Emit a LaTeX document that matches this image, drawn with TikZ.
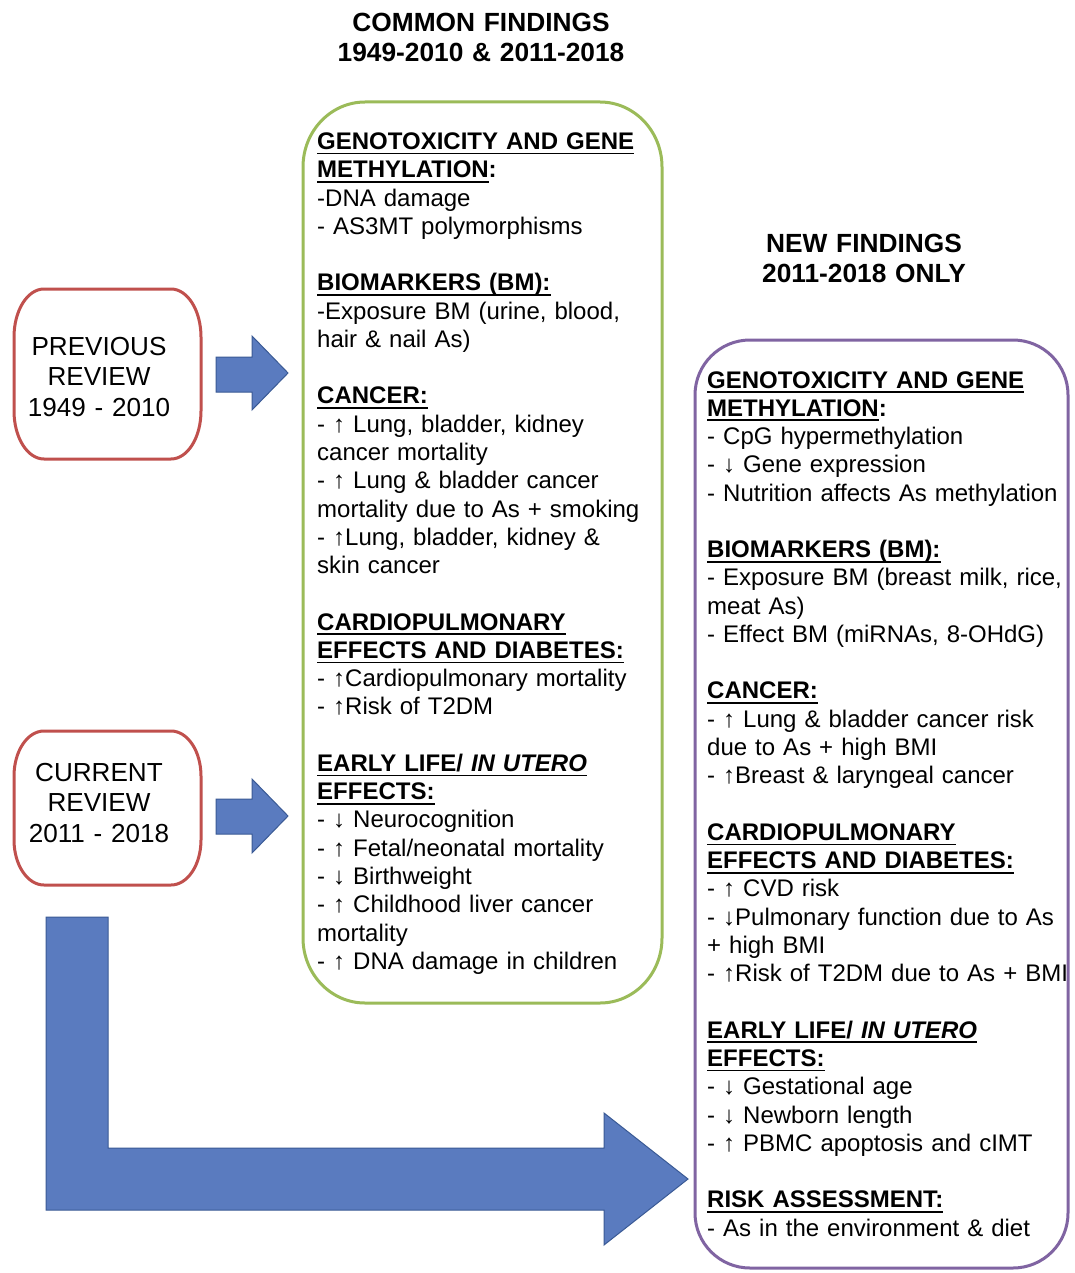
\documentclass[tikz,border=0pt]{standalone}
\usepackage{fontspec}
\setmainfont{Liberation Sans}
\definecolor{redb}{HTML}{C0504D}
\definecolor{greenb}{HTML}{9BBB59}
\definecolor{purpb}{HTML}{8064A2}
\definecolor{bluef}{HTML}{5A7BBF}
\definecolor{bluel}{HTML}{3A5A95}
\newsavebox\ulbox
\newcommand\myul[1]{\sbox\ulbox{#1}\rlap{\rule[-5pt]{\wd\ulbox}{1.8pt}}\usebox\ulbox}
\newcommand\gp{\\[28.27pt]}
\newcommand\hd[1]{\textbf{\myul{#1}}}
\newcommand\myframe[7]{%
\draw[#1] ({#2+#6},#3) -- ({#4-#6},#3) .. controls ({#4-0.448*#6},#3) and (#4,{#3+0.448*#7}) .. (#4,{#3+#7}) -- (#4,{#5-#7}) .. controls (#4,{#5-0.448*#7}) and ({#4-0.448*#6},#5) .. ({#4-#6},#5) -- ({#2+#6},#5) .. controls ({#2+0.448*#6},#5) and (#2,{#5-0.448*#7}) .. (#2,{#5-#7}) -- (#2,{#3+#7}) .. controls (#2,{#3+0.448*#7}) and ({#2+0.448*#6},#3) .. cycle;}
\begin{document}
\begin{tikzpicture}[x=1pt,y=-1pt,
  body/.style={inner sep=0pt, anchor=base west, align=left, text width=#1, font=\fontsize{24.0}{28.27}\selectfont},
  ttl/.style={inner sep=0pt, anchor=base, align=center, text width=400pt, font=\fontsize{26.3}{30}\selectfont\bfseries},
  rev/.style={inner sep=0pt, anchor=base, align=center, text width=180pt, font=\fontsize{26.1}{30.5}\selectfont},
  frame/.style={line width=3pt},
  blockarrow/.style={fill=bluef, draw=bluel, line width=1pt, line join=miter}
]
\useasboundingbox[fill=white] (0,0) rectangle (1074,1273);

% titles
\node[ttl] (t1) at (481,31.4) {COMMON FINDINGS\\1949-2010 \& 2011-2018};
\node[ttl] (t2) at (864,252.5) {NEW FINDINGS\\2011-2018 ONLY};

% review boxes
\myframe{frame, draw=redb}{14}{289}{201}{459}{30}{48}
\myframe{frame, draw=redb}{14}{731}{201}{885}{30}{45}
\node[rev] (prev) at (99,355.3) {PREVIOUS\\REVIEW\\1949 - 2010};
\node[rev] (curr) at (99,781.3) {CURRENT\\REVIEW\\2011 - 2018};

% block arrows
\draw[blockarrow] (216,357) -- (252,357) -- (252,336) -- (288,373) -- (252,410) -- (252,392) -- (216,392) -- cycle;
\draw[blockarrow] (216,799) -- (252,799) -- (252,779) -- (288,816) -- (252,853) -- (252,834) -- (216,834) -- cycle;
\draw[blockarrow] (46,917) -- (108,917) -- (108,1148) -- (604,1148) -- (604,1113) -- (688,1179) -- (604,1245) -- (604,1210) -- (46,1210) -- cycle;

% findings boxes
\myframe{frame, draw=greenb}{303}{102}{662}{1003}{62}{65}
\myframe{frame, draw=purpb}{695}{340}{1068}{1268}{55}{55}

\node[body=350pt] (common) at (317,149.5) {%
\hd{GENOTOXICITY AND GENE}\\
\textbf{\myul{METHYLATION}:}\\
-DNA damage\\
- AS3MT polymorphisms\gp
\hd{BIOMARKERS (BM):}\\
-Exposure BM (urine, blood,\\
hair \& nail As)\gp
\hd{CANCER:}\\
- ↑ Lung, bladder, kidney\\
cancer mortality\\
- ↑ Lung \& bladder cancer\\
mortality due to As + smoking\\
- ↑Lung, bladder, kidney \&\\
skin cancer\gp
\hd{CARDIOPULMONARY}\\
\hd{EFFECTS AND DIABETES:}\\
- ↑Cardiopulmonary mortality\\
- ↑Risk of T2DM\gp
\hd{EARLY LIFE/ {\itshape IN UTERO}}\\
\hd{EFFECTS:}\\
- ↓ Neurocognition\\
- ↑ Fetal/neonatal mortality\\
- ↓ Birthweight\\
- ↑ Childhood liver cancer\\
mortality\\
- ↑ DNA damage in children};

\node[body=385pt] (new) at (707,388) {%
\hd{GENOTOXICITY AND GENE}\\
\textbf{\myul{METHYLATION}:}\\
- CpG hypermethylation\\
- ↓ Gene expression\\
- Nutrition affects As methylation\gp
\hd{BIOMARKERS (BM):}\\
- Exposure BM (breast milk, rice,\\
meat As)\\
- Effect BM (miRNAs, 8-OHdG)\gp
\hd{CANCER:}\\
- ↑ Lung \& bladder cancer risk\\
due to As + high BMI\\
- ↑Breast \& laryngeal cancer\gp
\hd{CARDIOPULMONARY}\\
\hd{EFFECTS AND DIABETES:}\\
- ↑ CVD risk\\
- ↓Pulmonary function due to As\\
+ high BMI\\
- ↑Risk of T2DM due to As + BMI\gp
\hd{EARLY LIFE/ {\itshape IN UTERO}}\\
\hd{EFFECTS:}\\
- ↓ Gestational age\\
- ↓ Newborn length\\
- ↑ PBMC apoptosis and cIMT\gp
\hd{RISK ASSESSMENT:}\\
- As in the environment \& diet};
\end{tikzpicture}
\end{document}
